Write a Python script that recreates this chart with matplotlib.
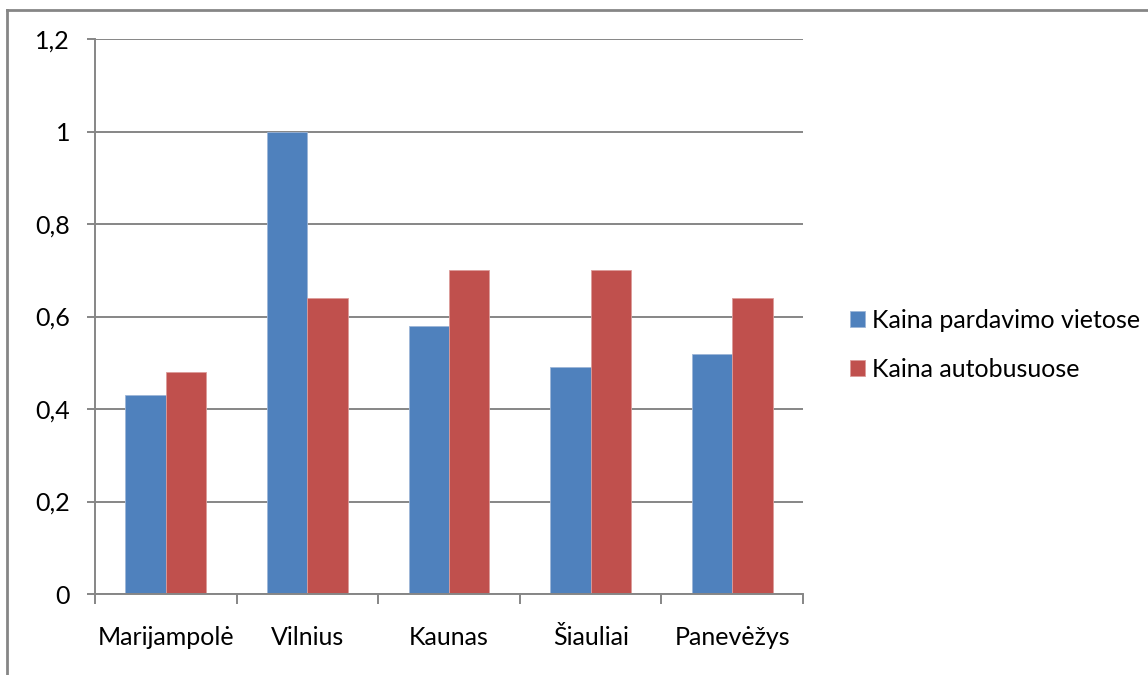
import numpy as np
import matplotlib.pyplot as plt
from matplotlib.lines import Line2D

plt.rcParams['font.family'] = ['Lato', 'DejaVu Sans']

cities = ['Marijampolė', 'Vilnius', 'Kaunas', 'Šiauliai', 'Panevėžys']
kaina_pardavimo = [0.43, 1.00, 0.58, 0.49, 0.52]
kaina_autobusuose = [0.48, 0.64, 0.70, 0.70, 0.64]
y_ticks = [0, 0.2, 0.4, 0.6, 0.8, 1.0, 1.2]
y_labels = ['0', '0,2', '0,4', '0,6', '0,8', '1', '1,2']

BLUE = '#4F81BD'
RED = '#C0504D'
GRID = '#868686'
FS = 18

fig = plt.figure(figsize=(11.48, 6.75), dpi=100)
ax = fig.add_axes([95 / 1148, 1 - 594 / 675, (803 - 95) / 1148, (594 - 39) / 675])

x = np.arange(len(cities))
w = 1 / 3.5
ax.bar(x - w / 2, kaina_pardavimo, w, color=BLUE, edgecolor='#9DB6D8', linewidth=0.6,
       label='Kaina pardavimo vietose', zorder=3)
ax.bar(x + w / 2, kaina_autobusuose, w, color=RED, edgecolor='#DC9C9A', linewidth=0.6,
       label='Kaina autobusuose', zorder=3)

ax.set_xlim(-0.5, len(cities) - 0.5)
ax.set_ylim(0, 1.2)
ax.set_yticks(y_ticks)
ax.set_yticklabels(y_labels, fontsize=FS)
ax.yaxis.grid(True, color=GRID, linewidth=1.4, zorder=0)

# category boundaries get tick marks, labels sit at centres
ax.set_xticks(np.arange(len(cities) + 1) - 0.5)
ax.set_xticklabels([])
ax.set_xticks(x, minor=True)
ax.set_xticklabels(cities, minor=True, fontsize=FS)
ax.tick_params(axis='x', which='major', length=7, width=1.4, color=GRID, direction='out')
ax.tick_params(axis='x', which='minor', length=0, pad=23)
ax.tick_params(axis='y', length=6, width=1.4, color=GRID, pad=12)

for side in ['top', 'right']:
    ax.spines[side].set_visible(False)
for side in ['left', 'bottom']:
    ax.spines[side].set_color(GRID)
    ax.spines[side].set_linewidth(1.4)
    ax.spines[side].set_zorder(4)

fig.legend(loc='center left', bbox_to_anchor=(840 / 1148, 1 - 345 / 675), frameon=False,
           fontsize=FS, handlelength=0.6, handleheight=0.6, handletextpad=0.3,
           labelspacing=1.05, borderaxespad=0)

# outer chart border (right and bottom edges fall outside the picture)
fig.add_artist(Line2D([7 / 1148, 1.01], [1 - 10 / 675] * 2, color=GRID, linewidth=2,
                      transform=fig.transFigure))
fig.add_artist(Line2D([7 / 1148] * 2, [-0.01, 1 - 10 / 675], color=GRID, linewidth=2,
                      transform=fig.transFigure))

fig.savefig('out.png', dpi=100)
